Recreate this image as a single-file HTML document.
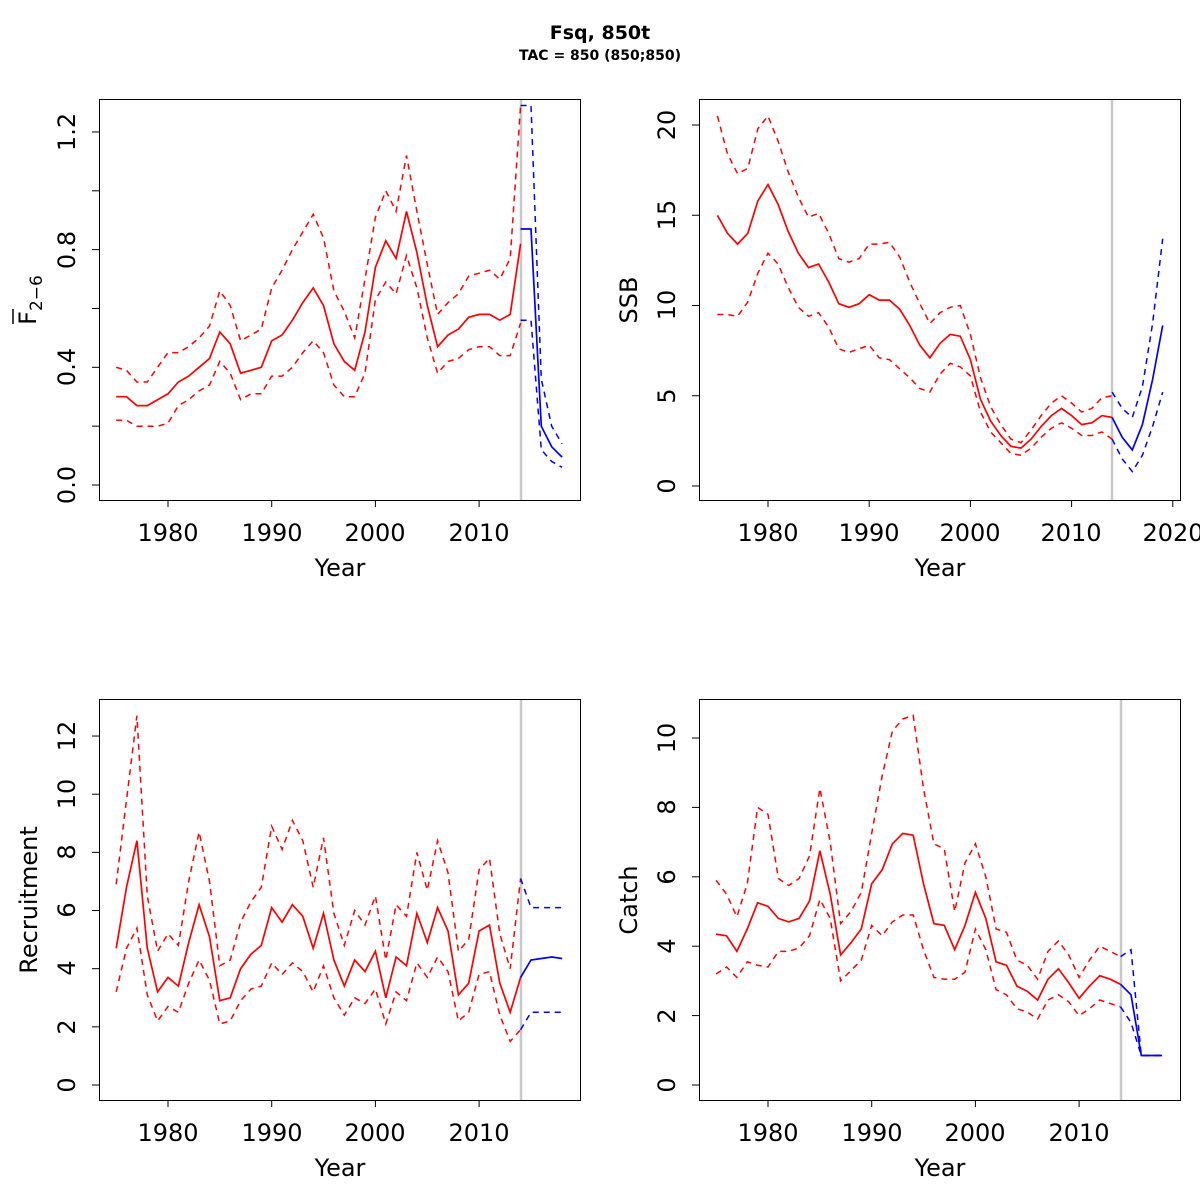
<!DOCTYPE html>
<html><head><meta charset="utf-8"><style>
body{margin:0;background:#fff}
svg{display:block}
text{font-family:"DejaVu Sans","Liberation Sans",sans-serif;fill:#000}
.t{font-size:24px}
</style></head><body>
<svg id="s" width="1200" height="1200" xmlns="http://www.w3.org/2000/svg">
<rect width="1200" height="1200" fill="#fff"/>
<text x="600" y="39" text-anchor="middle" font-size="19" font-weight="bold">Fsq, 850t</text>
<text x="600" y="60" text-anchor="middle" font-size="14" font-weight="bold">TAC = 850 (850;850)</text>
<g fill="none" stroke="#000" stroke-width="1">
<rect x="99.5" y="99.5" width="481" height="401"/>
<rect x="699.5" y="99.5" width="481" height="401"/>
<rect x="99.5" y="699.5" width="481" height="401"/>
<rect x="699.5" y="699.5" width="481" height="401"/>
</g>
<g stroke="#c8c8c8" stroke-width="2.5">
<line x1="521" y1="100" x2="521" y2="500"/><line x1="1112" y1="100" x2="1112" y2="500"/>
<line x1="521" y1="700" x2="521" y2="1100"/><line x1="1121" y1="700" x2="1121" y2="1100"/>
</g>
<g id="ticks" stroke="#000" stroke-width="1"></g>
<g id="lines"></g>
<g class="t" text-anchor="middle">
<text x="168" y="541">1980</text><text x="272" y="541">1990</text><text x="375" y="541">2000</text><text x="479" y="541">2010</text>
<text x="768" y="541">1980</text><text x="869" y="541">1990</text><text x="970" y="541">2000</text><text x="1071" y="541">2010</text><text x="1173" y="541">2020</text>
<text x="168" y="1141">1980</text><text x="272" y="1141">1990</text><text x="375" y="1141">2000</text><text x="479" y="1141">2010</text>
<text x="768" y="1141">1980</text><text x="872" y="1141">1990</text><text x="975" y="1141">2000</text><text x="1079" y="1141">2010</text>
<text x="340" y="576">Year</text><text x="940" y="576">Year</text>
<text x="340" y="1176">Year</text><text x="940" y="1176">Year</text>
</g>
<g class="t" text-anchor="middle">
<text transform="translate(75,485) rotate(-90)">0.0</text>
<text transform="translate(75,367) rotate(-90)">0.4</text>
<text transform="translate(75,250) rotate(-90)">0.8</text>
<text transform="translate(75,132) rotate(-90)">1.2</text>
<text transform="translate(675,486) rotate(-90)">0</text>
<text transform="translate(675,396) rotate(-90)">5</text>
<text transform="translate(675,305) rotate(-90)">10</text>
<text transform="translate(675,215) rotate(-90)">15</text>
<text transform="translate(675,125) rotate(-90)">20</text>
<text transform="translate(75,1085) rotate(-90)">0</text>
<text transform="translate(75,1027) rotate(-90)">2</text>
<text transform="translate(75,968) rotate(-90)">4</text>
<text transform="translate(75,910) rotate(-90)">6</text>
<text transform="translate(75,852) rotate(-90)">8</text>
<text transform="translate(75,794) rotate(-90)">10</text>
<text transform="translate(75,736) rotate(-90)">12</text>
<text transform="translate(675,1085) rotate(-90)">0</text>
<text transform="translate(675,1016) rotate(-90)">2</text>
<text transform="translate(675,946) rotate(-90)">4</text>
<text transform="translate(675,877) rotate(-90)">6</text>
<text transform="translate(675,807) rotate(-90)">8</text>
<text transform="translate(675,738) rotate(-90)">10</text>
<text transform="translate(36,300) rotate(-90)">F<tspan font-size="17" dy="6">2−6</tspan></text>
<text transform="translate(637,300) rotate(-90)">SSB</text>
<text transform="translate(37,900) rotate(-90)">Recruitment</text>
<text transform="translate(637,900) rotate(-90)">Catch</text>
</g>
<line x1="13" y1="309" x2="13" y2="324" stroke="#000" stroke-width="1.5"/>
</svg>
<script>
var NS="http://www.w3.org/2000/svg";
function el(p,n,a){var e=document.createElementNS(NS,n);for(var k in a)e.setAttribute(k,a[k]);p.appendChild(e);return e;}
var T=document.getElementById('ticks'),L=document.getElementById('lines');
var P=[
 {xm:function(y){return 168+(y-1980)*10.37},ym:function(v){return 485-v*294.2},yb:500,xl:99,xt:[1980,1990,2000,2010],yt:[0,.2,.4,.6,.8,1,1.2],
  red:[[.30,.30,.27,.27,.29,.31,.35,.37,.40,.43,.52,.48,.38,.39,.40,.49,.51,.56,.62,.67,.61,.48,.42,.39,.52,.74,.83,.77,.93,.79,.61,.47,.51,.53,.57,.58,.58,.56,.58,.82],
   [.40,.39,.35,.35,.40,.45,.45,.47,.50,.54,.66,.61,.49,.51,.53,.67,.73,.80,.86,.92,.84,.66,.59,.50,.70,.91,1.00,.93,1.12,.93,.75,.58,.62,.65,.71,.72,.73,.70,.77,1.29],
   [.22,.22,.20,.20,.20,.21,.27,.29,.32,.34,.42,.38,.29,.31,.31,.37,.37,.40,.45,.49,.45,.34,.30,.30,.38,.63,.69,.65,.78,.67,.50,.38,.42,.43,.46,.47,.47,.44,.44,.55]],
  blue:[[.87,.87,.20,.13,.095],[1.29,1.29,.36,.20,.14],[.56,.56,.12,.08,.06]]},
 {xm:function(y){return 768+(y-1980)*10.12},ym:function(v){return 486-v*18.05},yb:500,xl:699,xt:[1980,1990,2000,2010,2020],yt:[0,5,10,15,20],
  red:[[15,14,13.4,14,15.8,16.7,15.6,14.1,12.9,12.1,12.3,11.3,10.1,9.9,10.1,10.6,10.3,10.3,9.8,8.9,7.8,7.1,7.9,8.4,8.3,7.0,4.8,3.6,2.8,2.2,2.1,2.6,3.3,3.9,4.3,3.9,3.4,3.5,3.9,3.8],
   [20.5,18.4,17.3,17.6,19.8,20.5,19.1,17.4,16.0,14.9,15.1,14.0,12.6,12.4,12.6,13.4,13.4,13.5,12.7,11.3,10.1,9.0,9.6,9.9,10.0,8.4,6.0,4.4,3.4,2.6,2.4,3.1,3.9,4.6,5.0,4.6,4.1,4.3,4.9,5.0],
   [9.5,9.5,9.4,10.2,11.8,12.9,12.3,11.0,9.9,9.4,9.6,8.8,7.6,7.4,7.6,7.8,7.1,7.0,6.5,6.0,5.4,5.2,6.2,6.8,6.6,6.1,4.1,3.0,2.4,1.8,1.7,2.1,2.7,3.2,3.5,3.2,2.8,2.8,3.0,2.6]],
  blue:[[3.8,2.7,2.0,3.4,5.9,8.9],[5.2,4.3,3.8,5.5,9.0,13.7],[2.6,1.5,0.8,1.7,3.3,5.2]]},
 {xm:function(y){return 168+(y-1980)*10.37},ym:function(v){return 1085-v*29.08},yb:1100,xl:99,xt:[1980,1990,2000,2010],yt:[0,2,4,6,8,10,12],
  red:[[4.7,6.8,8.4,4.7,3.2,3.7,3.4,4.9,6.2,5.1,2.9,3.0,4.0,4.5,4.8,6.1,5.6,6.2,5.8,4.7,5.9,4.3,3.4,4.3,3.9,4.6,3.0,4.4,4.1,5.9,4.9,6.1,5.3,3.1,3.5,5.3,5.5,3.5,2.5,3.7],
   [6.9,9.8,12.7,6.5,4.6,5.2,4.8,7.0,8.7,7.0,4.1,4.3,5.6,6.3,6.8,8.9,8.1,9.1,8.4,6.8,8.5,5.9,4.8,6.0,5.5,6.5,4.3,6.2,5.8,8.0,6.7,8.4,7.3,4.6,5.0,7.4,7.8,5.2,4.0,7.1],
   [3.2,4.7,5.4,3.1,2.2,2.7,2.5,3.5,4.3,3.6,2.1,2.2,2.9,3.3,3.4,4.2,3.8,4.2,3.9,3.2,4.1,3.0,2.4,3.0,2.8,3.3,2.1,3.2,2.9,4.2,3.7,4.4,3.9,2.2,2.5,3.8,3.9,2.4,1.5,1.9]],
  blue:[[3.7,4.3,4.35,4.4,4.35],[7.1,6.1,6.1,6.1,6.1],[1.9,2.5,2.5,2.5,2.5]]},
 {xm:function(y){return 768+(y-1980)*10.37},ym:function(v){return 1085-v*34.7},yb:1100,xl:699,xt:[1980,1990,2000,2010],yt:[0,2,4,6,8,10],
  red:[[4.35,4.3,3.85,4.5,5.25,5.15,4.8,4.7,4.8,5.3,6.75,5.5,3.75,4.1,4.5,5.8,6.2,6.95,7.25,7.2,5.8,4.65,4.6,3.9,4.6,5.55,4.8,3.55,3.45,2.85,2.7,2.45,3.05,3.35,2.95,2.5,2.85,3.15,3.05,2.9],
   [5.9,5.5,4.85,5.8,8.0,7.8,5.95,5.75,5.95,6.6,8.55,7.0,4.65,5.0,5.55,7.25,8.9,10.2,10.55,10.65,8.55,6.95,6.8,5.0,6.4,6.95,6.0,4.5,4.4,3.6,3.45,3.05,3.85,4.15,3.75,3.1,3.6,4.0,3.85,3.7],
   [3.2,3.4,3.1,3.55,3.45,3.4,3.85,3.85,3.95,4.3,5.35,4.8,3.0,3.3,3.6,4.6,4.3,4.7,4.9,4.9,3.9,3.1,3.05,3.05,3.25,4.5,3.9,2.75,2.6,2.2,2.1,1.9,2.45,2.6,2.4,2.0,2.2,2.45,2.35,2.25]],
  blue:[[2.9,2.6,0.85,0.85,0.85],[3.7,3.9,0.85,0.85,0.85],[2.25,1.8,0.85,0.85,0.85]]}
];
P.forEach(function(p){
 p.xt.forEach(function(y){var x=p.xm(y);el(T,'line',{x1:x,y1:p.yb,x2:x,y2:p.yb+7});});
 p.yt.forEach(function(v){var y=p.ym(v);el(T,'line',{x1:p.xl,y1:y,x2:p.xl-7,y2:y});});
 function pl(arr,start,col,dash){var pts=arr.map(function(v,i){return p.xm(start+i).toFixed(1)+','+p.ym(v).toFixed(1)}).join(' ');
  var a={points:pts,fill:'none',stroke:col,'stroke-width':1.7};if(dash){a['stroke-dasharray']='6,5';a['stroke-width']=1.5;}el(L,'polyline',a);}
 pl(p.red[0],1975,'#f00',0);pl(p.red[1],1975,'#f00',1);pl(p.red[2],1975,'#f00',1);
 pl(p.blue[0],2014,'#00f',0);pl(p.blue[1],2014,'#00f',1);pl(p.blue[2],2014,'#00f',1);
});
</script>
</body></html>
